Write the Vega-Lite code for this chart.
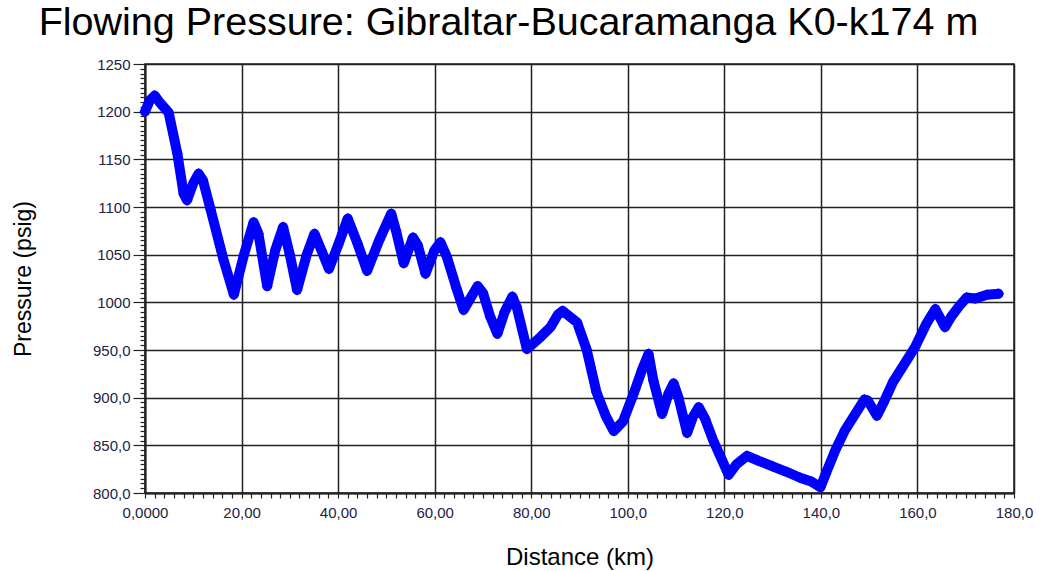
{
  "$schema": "https://vega.github.io/schema/vega-lite/v6.json",
  "width": 869,
  "height": 429,
  "autosize": {"type": "none"},
  "padding": {"left": 145, "top": 64, "right": 29, "bottom": 78},
  "background": "white",
  "title": {"text": "Flowing Pressure: Gibraltar-Bucaramanga K0-k174 m", "font": "Liberation Sans", "fontSize": 39.5, "fontWeight": "normal", "color": "#000000", "anchor": "middle", "baseline": "alphabetic", "offset": 25, "dx": -71, "dy": 42},
  "config": {"view": {"stroke": "#222222", "strokeWidth": 1.5}},
  "data": {"values": [
    {"km": 0, "psig": 1200}, {"km": 1, "psig": 1212}, {"km": 2, "psig": 1217}, {"km": 3, "psig": 1210},
    {"km": 4.9, "psig": 1199}, {"km": 6.7, "psig": 1156}, {"km": 8, "psig": 1114}, {"km": 8.7, "psig": 1107},
    {"km": 10, "psig": 1125}, {"km": 11.1, "psig": 1135}, {"km": 12, "psig": 1128}, {"km": 13.6, "psig": 1097},
    {"km": 16.3, "psig": 1044}, {"km": 18.4, "psig": 1008}, {"km": 20.5, "psig": 1050}, {"km": 22.5, "psig": 1084},
    {"km": 23.5, "psig": 1072}, {"km": 25.3, "psig": 1017}, {"km": 27, "psig": 1055}, {"km": 28.6, "psig": 1079},
    {"km": 30, "psig": 1050}, {"km": 31.5, "psig": 1013}, {"km": 33.5, "psig": 1050}, {"km": 35.1, "psig": 1072},
    {"km": 36.5, "psig": 1055}, {"km": 38.1, "psig": 1035}, {"km": 40, "psig": 1060}, {"km": 42, "psig": 1088},
    {"km": 44, "psig": 1062}, {"km": 46, "psig": 1033}, {"km": 48.5, "psig": 1065}, {"km": 51, "psig": 1093},
    {"km": 52, "psig": 1075}, {"km": 53.6, "psig": 1041}, {"km": 55.5, "psig": 1068}, {"km": 56.5, "psig": 1060},
    {"km": 58.1, "psig": 1030}, {"km": 60, "psig": 1055}, {"km": 61.2, "psig": 1063}, {"km": 62.5, "psig": 1048},
    {"km": 64.5, "psig": 1015}, {"km": 66, "psig": 992}, {"km": 67.5, "psig": 1005}, {"km": 68.9, "psig": 1017},
    {"km": 70, "psig": 1010}, {"km": 71.5, "psig": 985}, {"km": 73, "psig": 967}, {"km": 74.5, "psig": 990},
    {"km": 76.1, "psig": 1006}, {"km": 77, "psig": 995}, {"km": 79.1, "psig": 951}, {"km": 80, "psig": 955},
    {"km": 82, "psig": 964}, {"km": 84, "psig": 974}, {"km": 85.5, "psig": 987}, {"km": 86.5, "psig": 991},
    {"km": 88, "psig": 985}, {"km": 89.5, "psig": 979}, {"km": 91.5, "psig": 950}, {"km": 93.5, "psig": 906},
    {"km": 95.5, "psig": 880}, {"km": 97.1, "psig": 865}, {"km": 99, "psig": 875}, {"km": 101.2, "psig": 904},
    {"km": 103, "psig": 930}, {"km": 104.3, "psig": 946}, {"km": 105.3, "psig": 918}, {"km": 107.1, "psig": 883},
    {"km": 108.5, "psig": 905}, {"km": 109.5, "psig": 915}, {"km": 110.5, "psig": 900}, {"km": 112.3, "psig": 863},
    {"km": 113.5, "psig": 880}, {"km": 114.7, "psig": 890}, {"km": 116, "psig": 878}, {"km": 117.7, "psig": 855},
    {"km": 120.9, "psig": 819}, {"km": 122.5, "psig": 830}, {"km": 124.7, "psig": 839}, {"km": 127, "psig": 834},
    {"km": 130, "psig": 828}, {"km": 133, "psig": 822}, {"km": 135.7, "psig": 816}, {"km": 138, "psig": 812},
    {"km": 139.9, "psig": 806}, {"km": 141, "psig": 820}, {"km": 143, "psig": 845}, {"km": 145, "psig": 866},
    {"km": 147, "psig": 882}, {"km": 149, "psig": 898}, {"km": 149.7, "psig": 897}, {"km": 151.6, "psig": 881},
    {"km": 153, "psig": 895}, {"km": 155, "psig": 917}, {"km": 157, "psig": 933}, {"km": 159.5, "psig": 953},
    {"km": 161.9, "psig": 978}, {"km": 163.7, "psig": 993}, {"km": 165.7, "psig": 974}, {"km": 167, "psig": 985},
    {"km": 168.5, "psig": 995}, {"km": 170.2, "psig": 1005}, {"km": 172, "psig": 1004}, {"km": 174.4, "psig": 1008},
    {"km": 176.8, "psig": 1009}
  ]},
  "encoding": {
    "x": {"field": "km", "type": "quantitative",
      "scale": {"domain": [0, 180], "nice": false, "zero": false},
      "axis": {
        "values": [0,2,4,6,8,10,12,14,16,18,20,22,24,26,28,30,32,34,36,38,40,42,44,46,48,50,52,54,56,58,60,62,64,66,68,70,72,74,76,78,80,82,84,86,88,90,92,94,96,98,100,102,104,106,108,110,112,114,116,118,120,122,124,126,128,130,132,134,136,138,140,142,144,146,148,150,152,154,156,158,160,162,164,166,168,170,172,174,176,178,180],
        "labelExpr": "datum.value % 20 === 0 ? (datum.value === 0 ? '0,0000' : (datum.value < 100 ? datum.value + ',00' : datum.value + ',0')) : ''",
        "grid": true,
        "gridColor": "#222222",
        "gridWidth": 1.5,
        "gridOpacity": {"condition": {"test": "datum.value % 20 === 0", "value": 1}, "value": 0},
        "domainColor": "#222222", "domainWidth": 2,
        "tickColor": "#222222", "tickWidth": 1.2, "tickSize": 5,
        "labelFont": "Liberation Sans", "labelFontSize": 15, "labelColor": "#222244",
        "labelPadding": 7, "labelFlush": false, "labelOverlap": false, "labelBound": false,
        "title": "Distance (km)", "titleFont": "Liberation Sans", "titleFontSize": 24, "titleFontWeight": "normal", "titleColor": "#000000",
        "titleBaseline": "alphabetic", "titleX": 434.5, "titleY": 71, "titleAlign": "center"
      }
    },
    "y": {"field": "psig", "type": "quantitative",
      "scale": {"domain": [800, 1250], "nice": false, "zero": false},
      "axis": {
        "values": [800,805,810,815,820,825,830,835,840,845,850,855,860,865,870,875,880,885,890,895,900,905,910,915,920,925,930,935,940,945,950,955,960,965,970,975,980,985,990,995,1000,1005,1010,1015,1020,1025,1030,1035,1040,1045,1050,1055,1060,1065,1070,1075,1080,1085,1090,1095,1100,1105,1110,1115,1120,1125,1130,1135,1140,1145,1150,1155,1160,1165,1170,1175,1180,1185,1190,1195,1200,1205,1210,1215,1220,1225,1230,1235,1240,1245,1250],
        "labelExpr": "datum.value % 50 === 0 ? (datum.value >= 1000 ? '' + datum.value : datum.value + ',0') : ''",
        "grid": true,
        "gridColor": "#222222",
        "gridWidth": 1.5,
        "gridOpacity": {"condition": {"test": "datum.value % 50 === 0", "value": 1}, "value": 0},
        "domainColor": "#222222", "domainWidth": 2,
        "tickColor": "#222222", "tickWidth": 1.2,
        "tickSize": {"condition": {"test": "datum.value % 50 === 0", "value": 12}, "value": 5},
        "labelFont": "Liberation Sans", "labelFontSize": 15, "labelColor": "#222244",
        "labelPadding": 3, "labelOverlap": false, "labelBound": false, "labelFlush": false,
        "title": "Pressure (psig)", "titleFont": "Liberation Sans", "titleFontSize": 23, "titleFontWeight": "normal", "titleColor": "#000000",
        "titleAngle": 270, "titleBaseline": "middle", "titleAlign": "center", "titleX": -122, "titleY": 214.5
      }
    }
  },
  "layer": [
    {"mark": {"type": "line", "color": "#0000ff", "strokeWidth": 10, "strokeJoin": "round", "strokeCap": "round"}},
    {"mark": {"type": "point", "shape": "diamond", "filled": true, "color": "#0000ff", "size": 120, "opacity": 1}}
  ]
}
